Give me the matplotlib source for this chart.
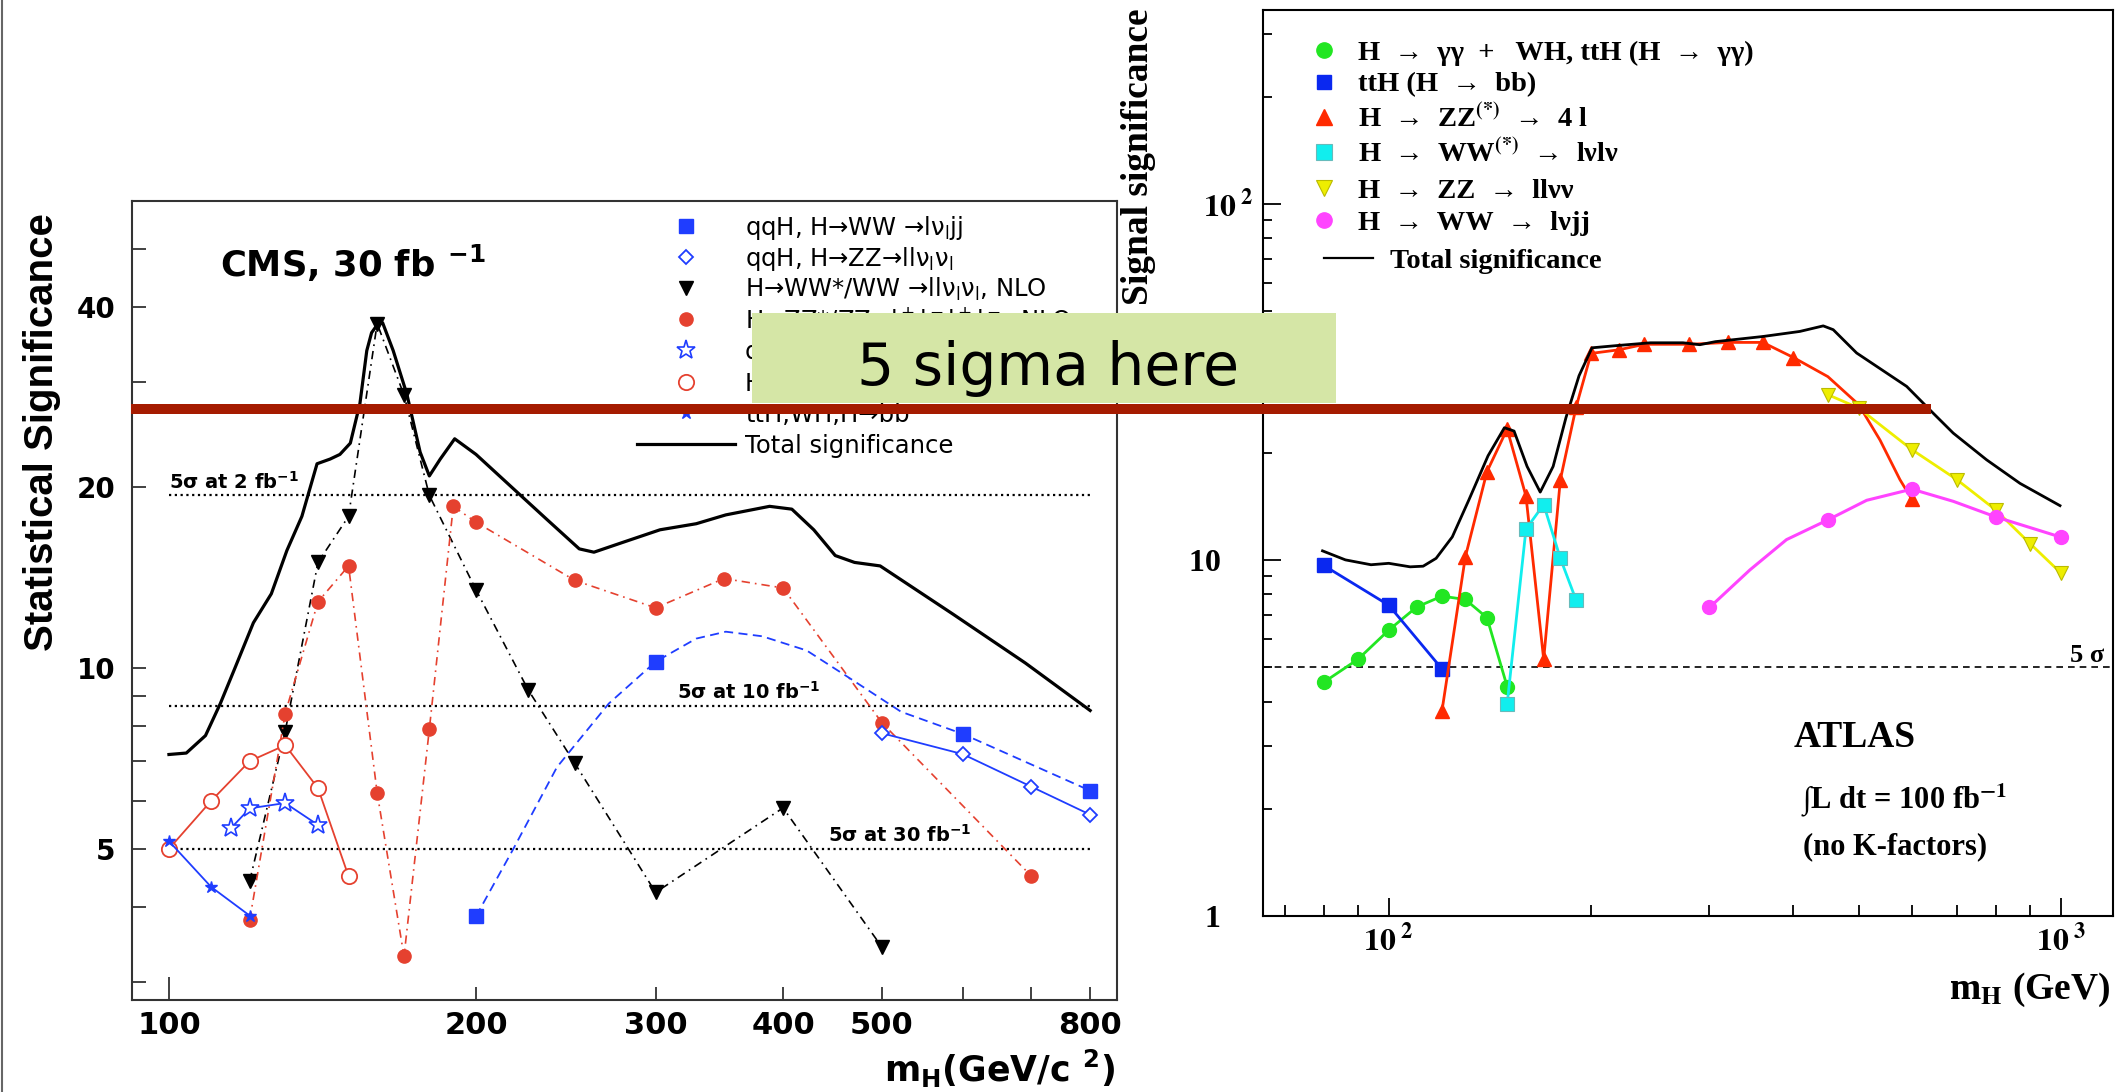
import matplotlib
matplotlib.use("Agg")
import matplotlib.pyplot as plt
from matplotlib.lines import Line2D
from matplotlib.patches import Rectangle
from matplotlib.ticker import NullLocator

# ================= DATA : CMS (left panel) =================
cms_total_x = [100, 104, 108.6, 112.3, 116, 121, 126, 130.5, 135, 139.7, 143.9, 147.1, 150.6, 153.9,
               156.3, 158, 160, 162, 165.9, 171.1, 176.3, 180, 184.5, 190.6, 200, 217.6, 234.6, 252.5,
               261, 278.6, 303, 328.8, 351.5, 388, 408, 428.7, 450, 470, 498, 587, 691, 800]
cms_total_y = [7.18, 7.22, 7.72, 8.73, 9.98, 11.9, 13.3, 15.7, 17.9, 21.9, 22.3, 22.7, 23.7, 27.6,
               33.8, 36.2, 37.3, 37.6, 33.8, 28.6, 22.9, 20.9, 22.3, 24.1, 22.7, 19.9, 17.7, 15.8,
               15.6, 16.2, 17.0, 17.4, 18.0, 18.6, 18.4, 17.0, 15.4, 15.0, 14.8, 12.3, 10.2, 8.5]

cms_ww_x = [120, 130, 140, 150, 160, 170, 180, 200, 225, 250, 300, 400, 500]
cms_ww_y = [4.42, 7.84, 15.0, 17.9, 37.5, 28.5, 19.4, 13.5, 9.2, 6.94, 4.23, 5.85, 3.43]

cms_zz_x = [120, 130, 140, 150, 160, 170, 180, 190, 200, 250, 300, 350, 400, 500, 700]
cms_zz_y = [3.81, 8.4, 12.9, 14.8, 6.2, 3.31, 7.91, 18.6, 17.5, 14.0, 12.6, 14.1, 13.6, 8.11, 4.51]

cms_qqww_x = [200, 300, 600, 800]
cms_qqww_y = [3.86, 10.25, 7.77, 6.25]
cms_qqww_curve_x = [200, 217.6, 240.1, 269.9, 300, 328.8, 351.5, 381.6, 421.9, 466.3, 522, 600, 800]
cms_qqww_curve_y = [3.86, 5.0, 6.84, 8.73, 10.25, 11.2, 11.5, 11.3, 10.7, 9.59, 8.46, 7.77, 6.25]

cms_qqzz_x = [500, 600, 700, 800]
cms_qqzz_y = [7.79, 7.19, 6.35, 5.70]

cms_tautau_x = [115, 120, 130, 140]
cms_tautau_y = [5.41, 5.84, 5.96, 5.48]

cms_gg_x = [100, 110, 120, 130, 140, 150]
cms_gg_y = [5.0, 6.01, 7.0, 7.44, 6.31, 4.5]

cms_bb_x = [100, 110, 120]
cms_bb_y = [5.15, 4.32, 3.87]

cms_ref_levels = [19.4, 8.66, 5.0]
cms_ref_labels = ["5σ at 2 fb$^{\\mathbf{-1}}$", "5σ at 10 fb$^{\\mathbf{-1}}$", "5σ at 30 fb$^{\\mathbf{-1}}$"]
cms_ref_label_x = [100, 315, 443]

cms_xticks_major = [100]
cms_xticks_minor = [200, 300, 400, 500, 600, 700, 800]
cms_xticklabels_minor = ["200", "300", "400", "500", "", "", "800"]
cms_yticks = [3, 4, 5, 6, 7, 8, 9, 10, 20, 30, 40, 50]
cms_yticklabels = ["", "", "5", "", "", "", "", "10", "20", "", "40", ""]

cms_legend = ["qqH, H→WW →lν$_\\mathrm{l}$jj",
              "qqH, H→ZZ→llν$_\\mathrm{l}$ν$_\\mathrm{l}$",
              "H→WW*/WW →llν$_\\mathrm{l}$ν$_\\mathrm{l}$, NLO",
              "H→ZZ*/ZZ→l$^+$l$^-$l$^+$l$^-$, NLO",
              "qqH, H→ττ→l+τ-jet",
              "H→γγ, NLO",
              "ttH,WH,H→bb",
              "Total significance"]

# ================= DATA : ATLAS (right panel) =================
at_gg_x = [80, 90, 100, 110, 120, 130, 140, 150]
at_gg_y = [4.53, 5.26, 6.35, 7.37, 7.91, 7.74, 6.88, 4.41]

at_bb_x = [80, 100, 120]
at_bb_y = [9.65, 7.46, 4.94]

at_zz4l_x = [120, 130, 140, 150, 160, 170, 180, 190, 200, 220, 240, 280, 320, 360, 400, 600]
at_zz4l_y = [3.77, 10.2, 17.7, 23.3, 15.1, 5.26, 16.8, 26.9, 38.0, 38.9, 40.3, 40.3, 40.8, 40.8, 37.0, 14.8]
at_zz4l_curve_x = [120, 130, 140, 150, 160, 170, 180, 190, 200, 220, 240, 280, 320, 360, 400,
                   450, 500, 538, 576, 600]
at_zz4l_curve_y = [3.77, 10.2, 17.7, 23.3, 15.1, 5.26, 16.8, 26.9, 38.0, 38.9, 40.3, 40.3, 40.8,
                   40.8, 37.0, 32.7, 27.3, 21.7, 16.8, 14.8]

at_ww2l_x = [150, 160, 170, 180, 190]
at_ww2l_y = [3.93, 12.2, 14.3, 10.1, 7.70]

at_llnn_x = [450, 500, 600, 700, 800, 900, 1000]
at_llnn_y = [29.1, 26.7, 20.4, 16.8, 13.8, 11.1, 9.18]

at_lvjj_x = [300, 450, 600, 800, 1000]
at_lvjj_y = [7.35, 12.95, 15.8, 13.2, 11.58]
at_lvjj_curve_x = [300, 344.5, 390.6, 450, 514, 600, 691.6, 800, 1000]
at_lvjj_curve_y = [7.35, 9.37, 11.4, 12.95, 14.7, 15.8, 14.6, 13.2, 11.58]

at_total_x = [79.7, 86.2, 94.1, 100, 107.6, 112.5, 117.6, 124.3, 131.5, 140.5, 148.6, 153.6, 160.6,
              168, 175.6, 183.5, 191.9, 200.6, 219.3, 245.1, 274, 290.2, 306.2, 360.6, 408.8, 442.9,
              458.3, 496.6, 589.4, 645.7, 691.3, 775, 869, 996.6]
at_total_y = [10.6, 10.0, 9.69, 9.78, 9.56, 9.6, 10.1, 11.6, 14.7, 19.6, 23.5, 23.0, 18.3,
              15.5, 18.3, 25.1, 32.9, 39.4, 40.0, 40.7, 40.7, 40.2, 41.0, 42.4, 43.8, 45.4,
              44.3, 38.1, 30.7, 25.8, 22.7, 19.1, 16.4, 14.2]

at_five_sigma = 5.0

at_legend = ["H  →  γγ  +   WH, ttH (H  →  γγ)",
             "ttH (H  →  bb)",
             "H  →  ZZ$^{\\mathbf{(*)}}$  →  4 l",
             "H  →  WW$^{\\mathbf{(*)}}$  →  lνlν",
             "H  →  ZZ  →  llνν",
             "H  →  WW  →  lνjj",
             "Total significance"]

# ================= FIGURE =================
W, H = 2116, 1092
fig = plt.figure(figsize=(W / 100, H / 100), dpi=100)
fig.patch.set_facecolor("white")

SANS = ["Liberation Sans", "DejaVu Sans"]
WIDE = ["DejaVu Sans"]
SERIF = ["Liberation Serif", "DejaVu Serif"]


def fx(px):
    return px / W


def fy(py):
    return 1 - py / H


CMS_RED = "#e5412f"
CMS_BLUE = "#1f3dff"
SPINE = "#333333"

# ---------------- left (CMS) axes ----------------
ax1 = fig.add_axes([fx(132), fy(1000), (1117 - 132) / W, (1000 - 201) / H])
ax1.set_xscale("log")
ax1.set_yscale("log")
ax1.set_xlim(92, 850)
ax1.set_ylim(2.8, 60)
for s in ax1.spines.values():
    s.set_color(SPINE)
    s.set_linewidth(1.5)

ax1.set_xticks(cms_xticks_major, labels=[str(v) for v in cms_xticks_major],
               fontsize=22, fontweight="bold", family=WIDE)
ax1.set_xticks(cms_xticks_minor, labels=cms_xticklabels_minor, minor=True,
               fontsize=22, fontweight="bold", family=WIDE)
ax1.set_yticks(cms_yticks, labels=cms_yticklabels, fontsize=20, fontweight="bold", family=WIDE)
ax1.yaxis.set_minor_locator(NullLocator())
ax1.tick_params(axis="both", which="both", direction="in", top=False, right=False,
                color=SPINE, width=1.3)
ax1.tick_params(axis="x", which="major", length=16.5, pad=8.0)
ax1.tick_params(axis="x", which="minor", length=9.4, pad=8.0)
ax1.tick_params(axis="y", which="major", length=10, pad=12.0)

# reference dotted lines
for lvl, lab, lx in zip(cms_ref_levels, cms_ref_labels, cms_ref_label_x):
    ax1.plot([100, 800], [lvl, lvl], color="black", lw=1.6, ls=(0, (1, 1.6)), zorder=1)
    ax1.annotate(lab, xy=(lx, lvl), xytext=(0, 5), textcoords="offset points",
                 ha="left", va="baseline", fontsize=14, fontweight="bold", family=WIDE,
                 math_fontfamily="dejavusans")

dashdot = (0, (5, 3, 1, 3))
ax1.plot(cms_ww_x, cms_ww_y, color="black", lw=1.2, ls=dashdot, marker="v", ms=9.5,
         mfc="black", mec="black", zorder=3)
ax1.plot(cms_zz_x, cms_zz_y, color=CMS_RED, lw=1.2, ls=dashdot, marker="o", ms=9.5,
         mfc=CMS_RED, mec=CMS_RED, zorder=3)
ax1.plot(cms_qqww_curve_x, cms_qqww_curve_y, color=CMS_BLUE, lw=1.3, ls=(0, (5, 3)), zorder=3)
ax1.plot(cms_qqww_x, cms_qqww_y, ls="none", marker="s", ms=9.5, mfc=CMS_BLUE, mec=CMS_BLUE, zorder=4)
ax1.plot(cms_qqzz_x, cms_qqzz_y, color=CMS_BLUE, lw=1.3, marker="D", ms=7, mfc="white",
         mec=CMS_BLUE, mew=1.3, zorder=3)
ax1.plot(cms_tautau_x, cms_tautau_y, color=CMS_BLUE, lw=1.3, marker="*", ms=14, mfc="white",
         mec=CMS_BLUE, mew=1.2, zorder=3)
ax1.plot(cms_gg_x, cms_gg_y, color=CMS_RED, lw=1.3, marker="o", ms=11, mfc="white",
         mec=CMS_RED, mew=1.3, zorder=3)
ax1.plot(cms_bb_x, cms_bb_y, color=CMS_BLUE, lw=1.3, marker="*", ms=9, mfc=CMS_BLUE,
         mec=CMS_BLUE, zorder=3)
ax1.plot(cms_total_x, cms_total_y, color="black", lw=2.3, zorder=5)

# CMS texts
fig.text(fx(220), fy(277), "CMS, 30 fb $^{\\mathbf{-1}}$", fontsize=25.5, fontweight="bold",
         family=WIDE, math_fontfamily="dejavusans", ha="left", va="baseline")
fig.text(fx(42), fy(432), "Statistical Significance", rotation=90, fontsize=29,
         fontweight="bold", family=SANS, ha="center", va="center")
fig.text(fx(1115), fy(1082), "m$_\\mathbf{H}$(GeV/c $^\\mathbf{2}$)", fontsize=25,
         fontweight="bold", family=WIDE, math_fontfamily="dejavusans", ha="right", va="baseline")

# CMS legend (manual)
leg_rows = [226 + 31.1 * i for i in range(8)]
leg_styles = [dict(marker="s", ms=9.5, mfc=CMS_BLUE, mec=CMS_BLUE),
              dict(marker="D", ms=7, mfc="white", mec=CMS_BLUE, mew=1.3),
              dict(marker="v", ms=9.5, mfc="black", mec="black"),
              dict(marker="o", ms=9.5, mfc=CMS_RED, mec=CMS_RED),
              dict(marker="*", ms=14, mfc="white", mec=CMS_BLUE, mew=1.2),
              dict(marker="o", ms=11, mfc="white", mec=CMS_RED, mew=1.3),
              dict(marker="*", ms=9, mfc=CMS_BLUE, mec=CMS_BLUE)]
for i, st in enumerate(leg_styles):
    fig.add_artist(Line2D([fx(686)], [fy(leg_rows[i])], transform=fig.transFigure, ls="none", **st))
fig.add_artist(Line2D([fx(637), fx(735)], [fy(leg_rows[7])] * 2, transform=fig.transFigure,
                      color="black", lw=2.3))
for i, lab in enumerate(cms_legend):
    fig.text(fx(745), fy(leg_rows[i] + 9), lab, fontsize=17.5, family=WIDE,
             math_fontfamily="dejavusans", ha="left", va="baseline")

# ---------------- right (ATLAS) axes ----------------
ax2 = fig.add_axes([fx(1263), fy(916), (2113 - 1263) / W, (916 - 10) / H])
ax2.set_xscale("log")
ax2.set_yscale("log")
ax2.set_xlim(65, 1195)
ax2.set_ylim(1, 350)
for s in ax2.spines.values():
    s.set_color("black")
    s.set_linewidth(1.5)

ax2.set_xticks([100, 1000], labels=["$\\mathbf{10^{\\ 2}}$", "$\\mathbf{10^{\\ 3}}$"],
               fontsize=23, math_fontfamily="stix")
ax2.set_xticks([70, 80, 90, 200, 300, 400, 500, 600, 700, 800, 900], minor=True)
ax2.set_yticks([1, 10, 100], labels=["1    ", "10    ", "$\\mathbf{10^{\\ 2}}$"],
               fontsize=23, fontweight="bold", family=SERIF, math_fontfamily="stix")
ax2.set_yticks([2, 3, 4, 5, 6, 7, 8, 9, 20, 30, 40, 50, 60, 70, 80, 90, 200, 300], minor=True)
ax2.tick_params(axis="both", which="both", direction="in", top=False, right=False,
                color="black", width=1.3)
ax2.tick_params(axis="x", which="major", length=13, pad=6)
ax2.tick_params(axis="x", which="minor", length=8)
ax2.tick_params(axis="y", which="major", length=13, pad=7)
ax2.tick_params(axis="y", which="minor", length=6.5)
ax2.tick_params(which="minor", labelbottom=False, labelleft=False)

GREEN, BLUE, RED, CYAN, YELLOW, MAGENTA = "#22e622", "#0a28f0", "#ff2a00", "#11eeee", "#eeee00", "#ff44ff"

ax2.axhline(at_five_sigma, color="black", lw=1.2, ls=(0, (4, 3)), zorder=1)
ax2.annotate("5 σ", xy=(1195, at_five_sigma), xytext=(-6, 4), textcoords="offset points",
             ha="right", va="baseline", fontsize=19, fontweight="bold", family=SERIF)

ax2.plot(at_gg_x, at_gg_y, color=GREEN, lw=2, marker="o", ms=10, mfc=GREEN, mec=GREEN, zorder=3)
ax2.plot(at_bb_x, at_bb_y, color=BLUE, lw=2, marker="s", ms=9.5, mfc=BLUE, mec=BLUE, zorder=3)
ax2.plot(at_zz4l_curve_x, at_zz4l_curve_y, color=RED, lw=2, zorder=3)
ax2.plot(at_zz4l_x, at_zz4l_y, ls="none", marker="^", ms=10, mfc=RED, mec=RED, zorder=3)
ax2.plot(at_ww2l_x, at_ww2l_y, color=CYAN, lw=2, marker="s", ms=10, mfc=CYAN, mec="#66bbbb",
         mew=0.8, zorder=3)
ax2.plot(at_llnn_x, at_llnn_y, color=YELLOW, lw=2, marker="v", ms=10, mfc=YELLOW, mec="#bbbb00",
         mew=0.8, zorder=3)
ax2.plot(at_lvjj_curve_x, at_lvjj_curve_y, color=MAGENTA, lw=2.2, zorder=3)
ax2.plot(at_lvjj_x, at_lvjj_y, ls="none", marker="o", ms=10, mfc=MAGENTA, mec=MAGENTA, zorder=3)
ax2.plot(at_total_x, at_total_y, color="black", lw=2, zorder=4)

fig.text(fx(1794), fy(747), "ATLAS", fontsize=27, fontweight="bold", family=SERIF,
         ha="left", va="baseline")
fig.text(fx(1801), fy(809), "∫L dt = 100 fb$^{\\mathbf{-1}}$", fontsize=22, fontweight="bold",
         family=SERIF, math_fontfamily="stix", ha="left", va="baseline")
fig.text(fx(1803), fy(854), "(no K-factors)", fontsize=22, fontweight="bold", family=SERIF,
         ha="left", va="baseline")
fig.text(fx(2111), fy(999), "m$_{\\mathbf{H}}$ (GeV)", fontsize=27, fontweight="bold",
         family=SERIF, math_fontfamily="stix", ha="right", va="baseline")
fig.text(fx(1139), fy(157), "Signal significance", rotation=90, fontsize=27, fontweight="bold",
         family=SERIF, ha="center", va="center")

# ATLAS legend (manual)
at_rows = [50, 81.7, 117.3, 151.7, 188.3, 220, 258.3]
at_styles = [dict(marker="o", ms=11, mfc=GREEN, mec=GREEN),
             dict(marker="s", ms=10, mfc=BLUE, mec=BLUE),
             dict(marker="^", ms=11, mfc=RED, mec=RED),
             dict(marker="s", ms=11, mfc=CYAN, mec="#66bbbb", mew=0.8),
             dict(marker="v", ms=11, mfc=YELLOW, mec="#bbbb00", mew=0.8),
             dict(marker="o", ms=11, mfc=MAGENTA, mec=MAGENTA)]
for i, st in enumerate(at_styles):
    fig.add_artist(Line2D([fx(1324)], [fy(at_rows[i])], transform=fig.transFigure, ls="none", **st))
fig.add_artist(Line2D([fx(1324), fx(1373)], [fy(at_rows[6])] * 2, transform=fig.transFigure,
                      color="black", lw=1.6))
for i, lab in enumerate(at_legend):
    x0 = 1358 if i < 6 else 1390
    fig.text(fx(x0), fy(at_rows[i] + 9.5), lab, fontsize=20.5, fontweight="bold", family=SERIF,
             math_fontfamily="stix", ha="left", va="baseline")

# ---------------- overlays ----------------
fig.add_artist(Line2D([fx(2), fx(2)], [0, 1], transform=fig.transFigure, color="#666666", lw=1.5))
fig.add_artist(Rectangle((fx(752), fy(403)), (1336 - 752) / W, (403 - 313) / H,
                         transform=fig.transFigure, facecolor="#d5e6a6", edgecolor="none", zorder=10))
fig.text(fx(857), fy(385), "5 sigma here", fontsize=42, family=["DejaVu Sans"],
         ha="left", va="baseline", zorder=11)
fig.add_artist(Rectangle((fx(131), fy(414)), (1931 - 131) / W, 10 / H,
                         transform=fig.transFigure, facecolor="#a51b00", edgecolor="none", zorder=12))

fig.savefig("out.png", dpi=100)
